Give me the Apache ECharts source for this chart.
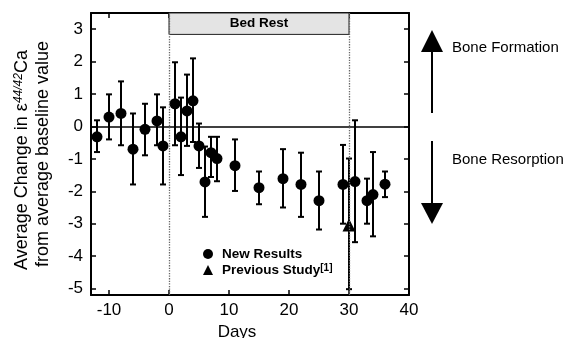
<!DOCTYPE html>
<html>
<head>
<meta charset="utf-8">
<script src="https://cdn.jsdelivr.net/npm/echarts@6/dist/echarts.min.js"></script>
<style>
  html, body { margin: 0; padding: 0; background: #fff; }
  #chart { width: 571px; height: 338px; }
</style>
</head>
<body>
<div id="chart"></div>
<script>
// new results: day, mean change and the ends of each error bar
const days = [-12, -10, -8, -6, -4, -2, -1, 1, 2, 3, 4, 5, 6, 7, 8, 11, 15, 19, 22, 25, 29, 31, 33, 34, 36];
const means = [-0.32, 0.29, 0.4, -0.7, -0.09, 0.17, -0.6, 0.7, -0.32, 0.48, 0.79, -0.6, -1.71, -0.81, -0.99, -1.21, -1.89, -1.61, -1.79, -2.29, -1.79, -1.7, -2.29, -2.1, -1.78];
const upper = [0.19, 0.99, 1.39, 0.4, 0.7, 0.99, 0.59, 1.98, 0.89, 1.6, 2.1, 0.09, -0.62, -0.32, -0.32, -0.4, -1.39, -0.7, -0.81, -1.39, -0.57, 0.19, -1.61, -0.79, -1.39];
const lower = [-0.79, -0.4, -0.58, -1.79, -0.89, -0.58, -1.79, -0.58, -1.5, -0.6, -0.48, -1.28, -2.79, -1.56, -1.69, -1.99, -2.4, -2.5, -2.79, -3.18, -3.0, -3.57, -3.0, -3.39, -2.18];

// previous study
const prevDays = [30];
const prevMeans = [-3.04];
const prevUpper = [-0.99];
const prevLower = [-5.02];

const xTicks = [-10, 0, 10, 20, 30, 40];
const yTicks = [-5, -4, -3, -2, -1, 0, 1, 2, 3];
const bedRest = [0, 30];

const FONT = "'Liberation Sans', Arial, sans-serif";

const chart = echarts.init(document.getElementById('chart'));

function renderErrorBar(params, api) {
  const x = api.value(0);
  const lo = api.coord([x, api.value(1)]);
  const hi = api.coord([x, api.value(2)]);
  const cap = 3;
  const style = { stroke: '#000', lineWidth: 2 };
  return {
    type: 'group',
    children: [
      { type: 'line', shape: { x1: hi[0], y1: hi[1], x2: lo[0], y2: lo[1] }, style },
      { type: 'line', shape: { x1: hi[0] - cap, y1: hi[1], x2: hi[0] + cap, y2: hi[1] }, style },
      { type: 'line', shape: { x1: lo[0] - cap, y1: lo[1], x2: lo[0] + cap, y2: lo[1] }, style },
    ],
  };
}

const barData = days.map((d, i) => [d, lower[i], upper[i]])
  .concat(prevDays.map((d, i) => [d, prevLower[i], prevUpper[i]]));

const option = {
  animation: false,
  grid: { left: 91, top: 13, right: 162, bottom: 43, outerBoundsMode: 'none' },
  xAxis: [
    {
      type: 'value', position: 'bottom', min: -13, max: 40,
      axisLine: { onZero: false, lineStyle: { color: '#000', width: 2 } },
      axisTick: { inside: true, length: 5, customValues: xTicks, lineStyle: { color: '#000', width: 1.5 } },
      axisLabel: { customValues: xTicks, margin: 7, fontFamily: FONT, fontSize: 17, color: '#000' },
      splitLine: { show: false },
      name: 'Days', nameLocation: 'middle', nameGap: 22,
      nameTextStyle: { fontFamily: FONT, fontSize: 17, color: '#000', padding: [0, 26, 0, 0] },
    },
    {
      type: 'value', position: 'top', min: -13, max: 40,
      axisLine: { onZero: false, lineStyle: { color: '#000', width: 2 } },
      axisTick: { inside: true, length: 5, customValues: xTicks, lineStyle: { color: '#000', width: 1.5 } },
      axisLabel: { show: false },
      splitLine: { show: false },
    },
  ],
  yAxis: [
    {
      type: 'value', position: 'left', min: -5.2, max: 3.5,
      axisLine: { show: true, onZero: false, lineStyle: { color: '#000', width: 2 } },
      axisTick: { show: true, inside: true, length: 5, customValues: yTicks, lineStyle: { color: '#000', width: 1.5 } },
      axisLabel: { customValues: yTicks, margin: 8, fontFamily: FONT, fontSize: 17, color: '#000' },
      splitLine: { show: false },
    },
    {
      type: 'value', position: 'right', min: -5.2, max: 3.5,
      axisLine: { show: true, onZero: false, lineStyle: { color: '#000', width: 2 } },
      axisTick: { show: true, inside: true, length: 5, customValues: yTicks, lineStyle: { color: '#000', width: 1.5 } },
      axisLabel: { show: false },
      splitLine: { show: false },
    },
  ],
  legend: {
    data: [
      { name: 'New Results', icon: 'circle' },
      { name: 'Previous Study', icon: 'triangle' },
    ],
    orient: 'vertical', left: 198, top: 242,
    itemWidth: 10, itemHeight: 10, itemGap: 2,
    selectedMode: false,
    formatter: n => (n === 'Previous Study' ? n + '{sup|[1]}' : n),
    textStyle: {
      fontFamily: FONT, fontSize: 13.5, fontWeight: 'bold', color: '#000',
      padding: [0, 0, 0, 4],
      rich: {
        sup: { fontFamily: FONT, fontSize: 10, fontWeight: 'bold', color: '#000', verticalAlign: 'top', lineHeight: 10 },
      },
    },
  },
  series: [
    {
      type: 'custom', name: 'errors', xAxisIndex: 0, yAxisIndex: 0,
      renderItem: renderErrorBar,
      encode: { x: 0, y: [1, 2] },
      data: barData,
      z: 2,
      markLine: {
        silent: true, symbol: 'none', label: { show: false },
        data: [
          { yAxis: 0, lineStyle: { color: '#000', width: 1.5, type: 'solid' } },
          { xAxis: bedRest[0], lineStyle: { color: '#666', width: 1.3, type: 'dotted' } },
          { xAxis: bedRest[1], lineStyle: { color: '#666', width: 1.3, type: 'dotted' } },
        ],
      },
      markArea: {
        silent: true,
        itemStyle: { color: '#e4e4e4', borderColor: '#222', borderWidth: 1 },
        label: { show: true, position: 'inside', fontFamily: FONT, fontSize: 13.5, fontWeight: 'bold', color: '#000' },
        data: [[{ name: 'Bed Rest', xAxis: bedRest[0], yAxis: 2.84 }, { xAxis: bedRest[1], yAxis: 3.5 }]],
      },
    },
    {
      type: 'scatter', name: 'New Results',
      symbol: 'circle', symbolSize: 11,
      itemStyle: { color: '#000', opacity: 1 },
      data: days.map((d, i) => [d, means[i]]),
      z: 3,
    },
    {
      type: 'scatter', name: 'Previous Study',
      symbol: 'triangle', symbolSize: 13,
      itemStyle: { color: '#000', opacity: 1 },
      data: prevDays.map((d, i) => [d, prevMeans[i]]),
      z: 3,
    },
  ],
  graphic: [
    {
      type: 'text', x: 22, y: 160, rotation: Math.PI / 2,
      style: {
        text: 'Average Change in \u03b5{sup|44/42}Ca',
        fontFamily: FONT, fontSize: 18, fill: '#000', align: 'center', verticalAlign: 'middle',
        rich: { sup: { fontFamily: FONT, fontSize: 12, fontStyle: 'italic', fill: '#000', verticalAlign: 'top', lineHeight: 12 } },
      },
    },
    {
      type: 'text', x: 43, y: 154, rotation: Math.PI / 2,
      style: {
        text: 'from average baseline value',
        fontFamily: FONT, fontSize: 18, fill: '#000', align: 'center', verticalAlign: 'middle',
      },
    },
    // bone formation arrow
    { type: 'line', shape: { x1: 432, y1: 113, x2: 432, y2: 48 }, style: { stroke: '#000', lineWidth: 2 } },
    { type: 'polygon', shape: { points: [[432, 30], [421, 52], [443, 52]] }, style: { fill: '#000' } },
    {
      type: 'text', x: 452, y: 48,
      style: { text: 'Bone Formation', fontFamily: FONT, fontSize: 15, fill: '#000', verticalAlign: 'middle' },
    },
    // bone resorption arrow
    { type: 'line', shape: { x1: 432, y1: 141, x2: 432, y2: 206 }, style: { stroke: '#000', lineWidth: 2 } },
    { type: 'polygon', shape: { points: [[432, 224], [421, 203], [443, 203]] }, style: { fill: '#000' } },
    {
      type: 'text', x: 452, y: 160,
      style: { text: 'Bone Resorption', fontFamily: FONT, fontSize: 15, fill: '#000', verticalAlign: 'middle' },
    },
  ],
};

chart.setOption(option);
</script>
</body>
</html>
